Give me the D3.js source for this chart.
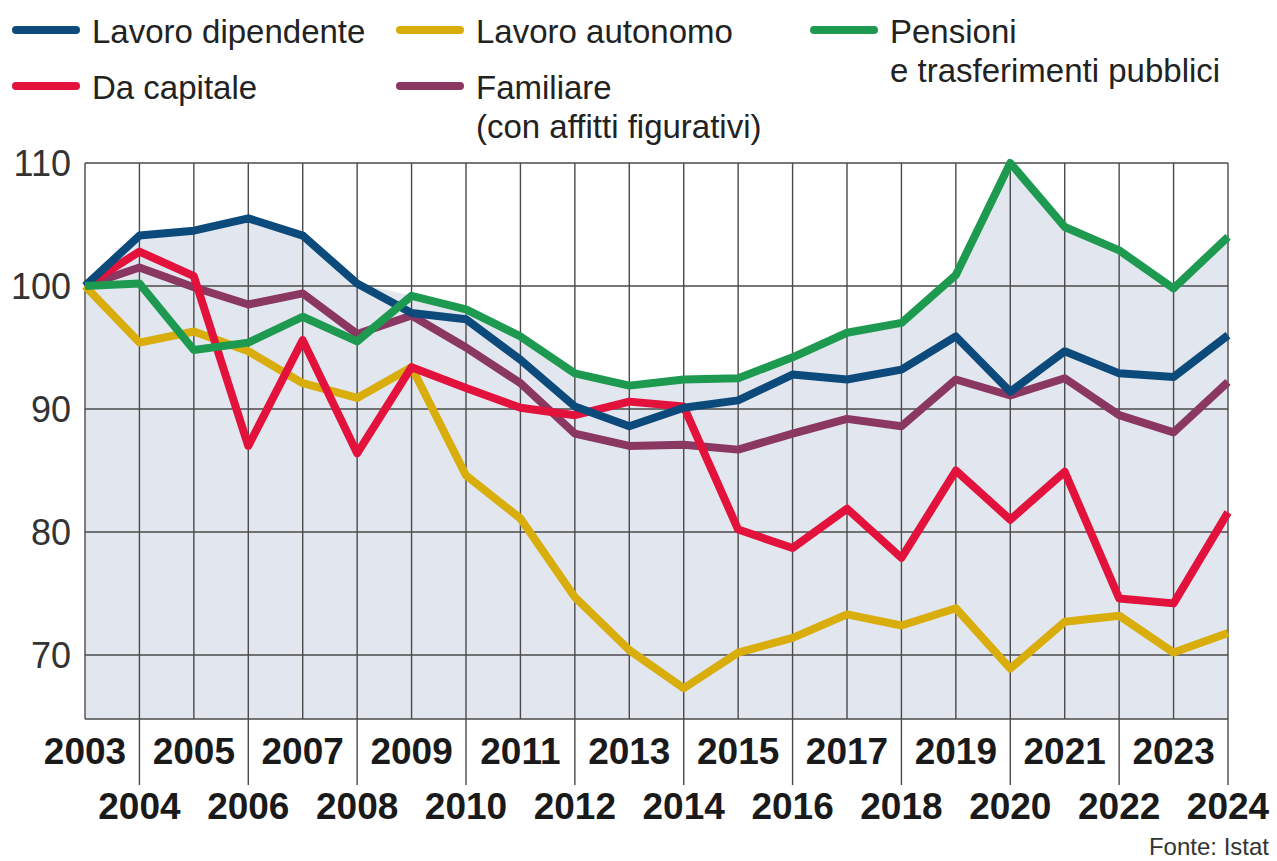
<!DOCTYPE html>
<html>
<head>
<meta charset="utf-8">
<script src="https://cdn.jsdelivr.net/npm/d3@7"></script>
<style>
  body { margin: 0; background: #fff; }
  svg { display: block; }
</style>
</head>
<body>
<svg id="chart" width="1277" height="861"></svg>
<script>
// data (index, 2003 = 100)
const years = [2003, 2004, 2005, 2006, 2007, 2008, 2009, 2010, 2011, 2012, 2013,
  2014, 2015, 2016, 2017, 2018, 2019, 2020, 2021, 2022, 2023, 2024];
const dipendente = [100, 104.1, 104.5, 105.5, 104.1, 100.2, 97.8, 97.3, 94.0, 90.2, 88.6,
  90.1, 90.7, 92.8, 92.4, 93.2, 95.9, 91.4, 94.7, 92.9, 92.6, 96.0];
const autonomo = [100, 95.4, 96.3, 94.7, 92.1, 90.9, 93.4, 84.6, 81.1, 74.7, 70.4,
  67.3, 70.2, 71.4, 73.3, 72.4, 73.8, 68.9, 72.7, 73.2, 70.2, 71.8];
const pensioni = [100, 100.2, 94.8, 95.4, 97.5, 95.5, 99.2, 98.1, 95.9, 92.9, 91.9,
  92.4, 92.5, 94.2, 96.2, 97.0, 100.9, 110.0, 104.8, 102.9, 99.8, 104.0];
const capitale = [100, 102.8, 100.8, 87.0, 95.6, 86.4, 93.4, 91.7, 90.1, 89.5, 90.6,
  90.2, 80.2, 78.7, 81.9, 77.9, 85.0, 81.0, 84.9, 74.6, 74.2, 81.6];
const familiare = [100, 101.5, 99.9, 98.5, 99.4, 96.1, 97.6, 95.0, 92.1, 88.0, 87.0,
  87.1, 86.7, 88.0, 89.2, 88.6, 92.4, 91.1, 92.5, 89.5, 88.1, 92.2];

const yTicks = [70, 80, 90, 100, 110];

const FONT = "'Liberation Sans', Arial, sans-serif";

const PLOT_LEFT = 85;
const PLOT_RIGHT = 1228;
const PLOT_TOP = 163;
const PLOT_BOTTOM = 719;

const svg = d3.select("#chart");

const x = d3.scaleLinear().domain([2003, 2024]).range([PLOT_LEFT, PLOT_RIGHT]);
const y = d3.scaleLinear().domain([64.8, 110]).range([PLOT_BOTTOM, PLOT_TOP]);

// drawing order: bottom first
const series = [
  { name: "autonomo", values: autonomo, color: "#d8ad0c" },
  { name: "familiare", values: familiare, color: "#8a3762" },
  { name: "capitale", values: capitale, color: "#e3123c" },
  { name: "dipendente", values: dipendente, color: "#0c4a7c" },
  { name: "pensioni", values: pensioni, color: "#1e9a50" }
];

// shaded area under the upper envelope of all series
const envelope = years.map((yr, i) => ({
  year: yr,
  top: d3.max(series, s => s.values[i])
}));

svg.append("path")
  .datum(envelope)
  .attr("fill", "#e2e6ee")
  .attr("d", d3.area()
    .x(d => x(d.year))
    .y0(PLOT_BOTTOM)
    .y1(d => y(d.top)));

// grid
const grid = svg.append("g").attr("stroke", "#4a4a4a").attr("stroke-width", 1.4);

grid.selectAll("line.h")
  .data(yTicks)
  .join("line")
  .attr("x1", PLOT_LEFT)
  .attr("x2", PLOT_RIGHT)
  .attr("y1", d => y(d))
  .attr("y2", d => y(d));

grid.append("line")
  .attr("x1", PLOT_LEFT).attr("x2", PLOT_RIGHT)
  .attr("y1", PLOT_BOTTOM).attr("y2", PLOT_BOTTOM);

// vertical lines, even years run down between the two label rows
grid.selectAll("line.v")
  .data(years)
  .join("line")
  .attr("x1", d => x(d))
  .attr("x2", d => x(d))
  .attr("y1", PLOT_TOP)
  .attr("y2", d => (d % 2 === 0 ? 785 : PLOT_BOTTOM));

// y labels
svg.append("g")
  .selectAll("text")
  .data(yTicks)
  .join("text")
  .attr("x", 71)
  .attr("y", d => y(d))
  .attr("dy", "0.36em")
  .attr("text-anchor", "end")
  .attr("font-family", FONT)
  .attr("font-size", 36)
  .attr("fill", "#333")
  .text(d => d);

// x labels, odd years on the first row, even years on the second
svg.append("g")
  .selectAll("text")
  .data(years)
  .join("text")
  .attr("x", d => x(d))
  .attr("y", d => (d % 2 === 1 ? 764 : 819))
  .attr("text-anchor", "middle")
  .attr("font-family", FONT)
  .attr("font-weight", "bold")
  .attr("font-size", 37)
  .attr("fill", "#1a1a1a")
  .text(d => d);

// lines
const line = d3.line()
  .x((d, i) => x(years[i]))
  .y(d => y(d));

svg.append("g")
  .selectAll("path")
  .data(series)
  .join("path")
  .attr("fill", "none")
  .attr("stroke", d => d.color)
  .attr("stroke-width", 8)
  .attr("stroke-linejoin", "round")
  .attr("d", d => line(d.values));

// legend
const legendItems = [
  { lines: ["Lavoro dipendente"], color: "#0c4a7c", x: 12, y: 30 },
  { lines: ["Lavoro autonomo"], color: "#d8ad0c", x: 396, y: 30 },
  { lines: ["Pensioni", "e trasferimenti pubblici"], color: "#1e9a50", x: 810, y: 30 },
  { lines: ["Da capitale"], color: "#e3123c", x: 12, y: 86 },
  { lines: ["Familiare", "(con affitti figurativi)"], color: "#8a3762", x: 396, y: 86 }
];

const legend = svg.append("g");
legendItems.forEach(item => {
  legend.append("line")
    .attr("x1", item.x + 4)
    .attr("x2", item.x + 64)
    .attr("y1", item.y)
    .attr("y2", item.y)
    .attr("stroke", item.color)
    .attr("stroke-width", 8)
    .attr("stroke-linecap", "round");
  const t = legend.append("text")
    .attr("x", item.x + 80)
    .attr("y", item.y + 13)
    .attr("font-family", FONT)
    .attr("font-size", 33)
    .attr("fill", "#222");
  item.lines.forEach((s, i) => {
    t.append("tspan")
      .attr("x", item.x + 80)
      .attr("dy", i === 0 ? 0 : 39)
      .text(s);
  });
});

svg.append("text")
  .attr("x", 1269)
  .attr("y", 855)
  .attr("text-anchor", "end")
  .attr("font-family", FONT)
  .attr("font-size", 24)
  .attr("fill", "#333")
  .text("Fonte: Istat");
</script>
</body>
</html>
